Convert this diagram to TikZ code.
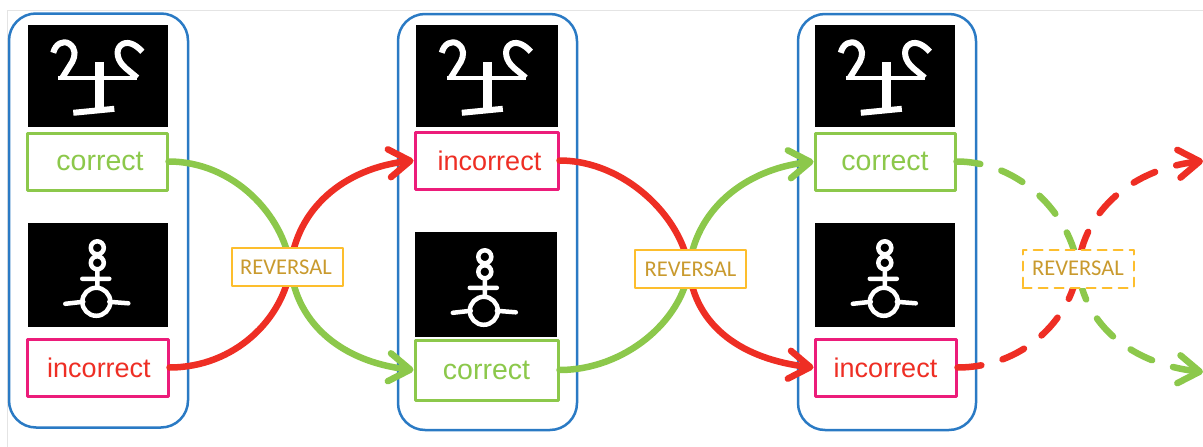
\documentclass[tikz,border=0pt]{standalone}
\usepackage{fontspec}
\setmainfont{Liberation Sans}
\newfontfamily\revfont{Carlito}
\usetikzlibrary{arrows.meta}
\definecolor{panelblue}{RGB}{42,122,196}
\definecolor{okgreen}{RGB}{140,200,75}
\definecolor{badred}{RGB}{238,46,36}
\definecolor{badpink}{RGB}{236,28,122}
\definecolor{revamber}{RGB}{253,190,45}
\definecolor{revtext}{RGB}{201,154,46}
\definecolor{framegray}{RGB}{228,228,228}
\tikzset{
  panel/.style={draw=panelblue,line width=2.5pt,rounded corners=27pt,minimum width=179pt,inner sep=0pt},
  stimulus/.style={fill=black,minimum width=140pt,minimum height=102pt,inner sep=0pt},
  okbox/.style={draw=okgreen,fill=white,line width=3pt,text=okgreen,minimum width=140pt,minimum height=57pt,inner sep=0pt,font=\fontsize{28.5}{30}\selectfont},
  badbox/.style={draw=badpink,fill=white,line width=3pt,text=badred,minimum width=141pt,minimum height=57pt,inner sep=0pt,font=\fontsize{27}{30}\selectfont},
  revbox/.style={draw=revamber,fill=white,line width=2.5pt,text=revtext,minimum width=111pt,minimum height=38pt,inner sep=0pt,font=\revfont\fontsize{22.5}{24}\selectfont},
  okline/.style={draw=okgreen,line width=6.5pt,-{Straight Barb[length=21pt,width=28pt,line width=6.5pt,round]}},
  badline/.style={draw=badred,line width=6.5pt,-{Straight Barb[length=21pt,width=28pt,line width=6.5pt,round]}},
  chalk/.style={draw=white,line width=4.5pt,line cap=round,line join=round},
  later/.style={dash pattern=on 24pt off 22pt},
  glypha/.pic={
    \draw[chalk,line width=6pt,line cap=butt] (26,28) .. controls (28,19) and (36,15) .. (42,19) .. controls (49,24) and (48,31) .. (45,37) -- (35,53);
    \draw[chalk,line width=6pt,line cap=butt] (110,53) -- (98,43) .. controls (90,36) and (88,26) .. (93,21) .. controls (99,15) and (108,19) .. (115,27);
    \draw[chalk,line cap=butt] (31,53) -- (110,53);
    \draw[chalk,line width=9pt,line cap=butt] (72,37) -- (72,85);
    \draw[chalk,line width=6pt,line cap=butt] (46,88) -- (87,84);
  },
  glyphb/.pic={
    \draw[chalk] (70,25) circle (6.5) (70,40) circle (6.5) (70,46.5) -- (70,65) (55,56) -- (82,56) (69,79) circle (14);
    \draw[chalk] (38,81) -- (56,79) (82,79) -- (101,80.5);
  }
}
\begin{document}
\begin{tikzpicture}[x=1pt,y=-1pt,line cap=round,line join=round]
\useasboundingbox (0,0) rectangle (1203,447);
%screenshot edge
\draw[framegray,thin] (7,447) -- (7,10) -- (1203,10);

%first group
\node[panel,minimum height=414pt] (panela) at (98.5,220.5) {};
\node[stimulus] (imgaa) at (97.5,76) {};
\node[stimulus,minimum height=104pt] (imgab) at (97.5,275) {};
\pic at (imgaa.north west) {glypha};
\pic at (imgab.north west) {glyphb};
\node[okbox] (okay) at (97,161.5) {\hspace*{6pt}correct};
\node[badbox] (baday) at (97.5,367.5) {\hspace*{3pt}incorrect};

%second group
\node[panel,minimum height=416pt] (panelb) at (487.5,222) {};
\node[stimulus,minimum width=142pt] (imgba) at (487,76) {};
\node[stimulus,minimum width=142pt,minimum height=105pt] (imgbb) at (486,284.5) {};
\pic at (imgba.north west) {glypha};
\pic at (imgbb.north west) {glyphb};
\node[badbox,minimum width=143pt] (badb) at (486.5,160.5) {\hspace*{6pt}incorrect};
\node[okbox,minimum width=143pt,minimum height=60pt] (okb) at (486.5,370) {correct};

%third group
\node[panel,minimum width=178pt,minimum height=416pt] (panelc) at (887,222) {};
\node[stimulus] (imgca) at (885,76) {};
\node[stimulus,minimum height=104pt] (imgcb) at (885,275) {};
\pic at (imgca.north west) {glypha};
\pic at (imgcb.north west) {glyphb};
\node[okbox] (okc) at (885,161.5) {correct};
\node[badbox] (badc) at (885.5,367.5) {incorrect};

%crossing points and free ends on the right
\coordinate (midab) at (290.5,267);
\coordinate (midbc) at (689,269);
\coordinate (midc) at (1078,268);
\coordinate (endup) at (1203,161);
\coordinate (enddown) at (1203,372);

%the curves
\draw[okline] (okay.east) .. controls +(65,0) and +(-7,-52) .. (midab) .. controls +(6,58) and +(-70,-8) .. (okb.west);
\draw[badline] (baday.east) .. controls +(65,0) and +(-7,52) .. (midab) .. controls +(6,-58) and +(-70,8) .. (badb.west);
\draw[okline] (okb.east) .. controls +(65,0) and +(-7,52) .. (midbc) .. controls +(6,-58) and +(-70,8) .. (okc.west);
\draw[badline] (badb.east) .. controls +(65,0) and +(-7,-52) .. (midbc) .. controls +(6,58) and +(-70,-8) .. (badc.west);
\draw[okline,later] (okc.east) .. controls +(65,0) and +(-7,-52) .. (midc) .. controls +(6,58) and +(-70,-8) .. (enddown);
\draw[badline,later] (badc.east) .. controls +(65,0) and +(-7,52) .. (midc) .. controls +(6,-58) and +(-70,8) .. (endup);

%reversal labels
\node[revbox] (revab) at (287.5,267) {\hspace*{-3pt}REVERSAL};
\node[revbox] (revbc) at (690.5,269) {REVERSAL};
\node[revbox,line width=2pt,dash pattern=on 9pt off 7pt] (revc) at (1078,268.5) {REVERSAL};
\end{tikzpicture}
\end{document}
